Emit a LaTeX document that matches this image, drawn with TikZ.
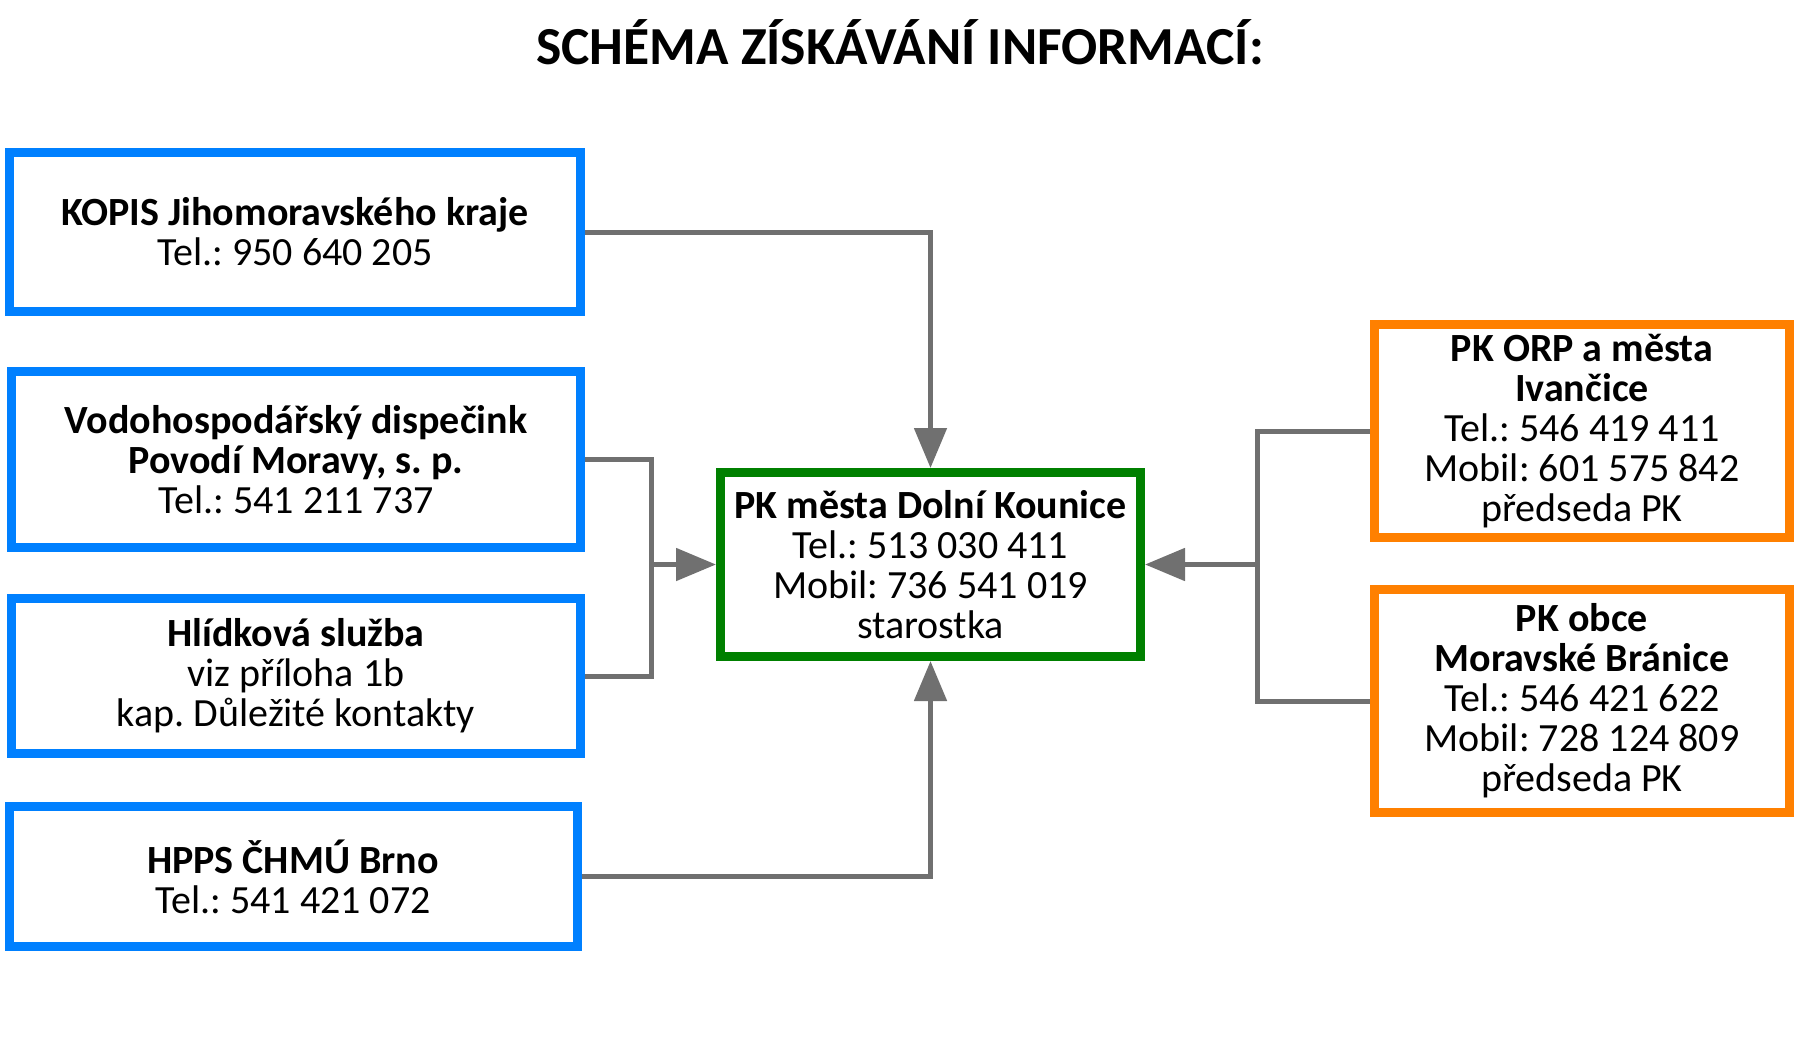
\documentclass[tikz,border=0pt]{standalone}
\usepackage{fontspec}
\setmainfont{Carlito}
\usetikzlibrary{arrows.meta}
\definecolor{bblue}{RGB}{0,128,255}
\definecolor{borange}{RGB}{255,128,0}
\definecolor{bgreen}{RGB}{0,128,0}
\definecolor{cgray}{RGB}{112,112,112}
\frenchspacing
\begin{document}
\begin{tikzpicture}[x=1pt,y=-1pt,
  box/.style={draw, line width=9pt, align=center, inner sep=0pt, fill=white,
    font=\fontsize{40}{40}\selectfont},
  conn/.style={draw=cgray, line width=5pt},
  arr/.style={conn, -{Triangle[length=40pt,width=32pt]}}]
\useasboundingbox (0,0) rectangle (1800,1042);
\node[font=\fontsize{53.5}{60}\selectfont\bfseries] (title) at (900,42) {SCHÉMA ZÍSKÁVÁNÍ INFORMACÍ:};

\node[box, draw=bblue, minimum width=571pt, minimum height=159pt] (kopis) at (295,232)
  {\textbf{KOPIS Jihomoravského kraje}\\Tel.: 950 640 205};
\node[box, draw=bblue, minimum width=569pt, minimum height=176pt] (vodo) at (296,459.5)
  {\textbf{Vodohospodářský dispečink}\\\textbf{Povodí Moravy, s. p.}\\Tel.: 541 211 737};
\node[box, draw=bblue, minimum width=569pt, minimum height=155pt] (hlid) at (296,676)
  {\textbf{Hlídková služba}\\viz příloha 1b\\kap. Důležité kontakty};
\node[box, draw=bblue, minimum width=568pt, minimum height=140pt] (hpps) at (293,876.5)
  {\textbf{HPPS ČHMÚ Brno}\\Tel.: 541 421 072};

\node[box, draw=bgreen, minimum width=420pt, minimum height=184pt] (center) at (930.5,564.5)
  {\textbf{PK města Dolní Kounice}\\Tel.: 513 030 411\\Mobil: 736 541 019\\starostka};

\node[box, draw=borange, minimum width=415pt, minimum height=213pt] (orp) at (1582,431)
  {\textbf{PK ORP a města}\\\textbf{Ivančice}\\Tel.: 546 419 411\\Mobil: 601 575 842\\předseda PK};
\node[box, draw=borange, minimum width=415pt, minimum height=223pt] (mb) at (1582,701)
  {\textbf{PK obce}\\\textbf{Moravské Bránice}\\Tel.: 546 421 622\\Mobil: 728 124 809\\předseda PK};

\coordinate (lj) at (651,564.5);
\coordinate (rj) at (1257,564.5);

\draw[arr] (kopis.east) -| (center.north);
\draw[conn] (vodo.east) -| (lj) |- (hlid.east);
\draw[arr] (lj) -- (center.west);
\draw[arr] (hpps.east) -| (center.south);
\draw[conn] (orp.west) -| (rj) |- (mb.west);
\draw[arr] (rj) -- (center.east);
\end{tikzpicture}
\end{document}
